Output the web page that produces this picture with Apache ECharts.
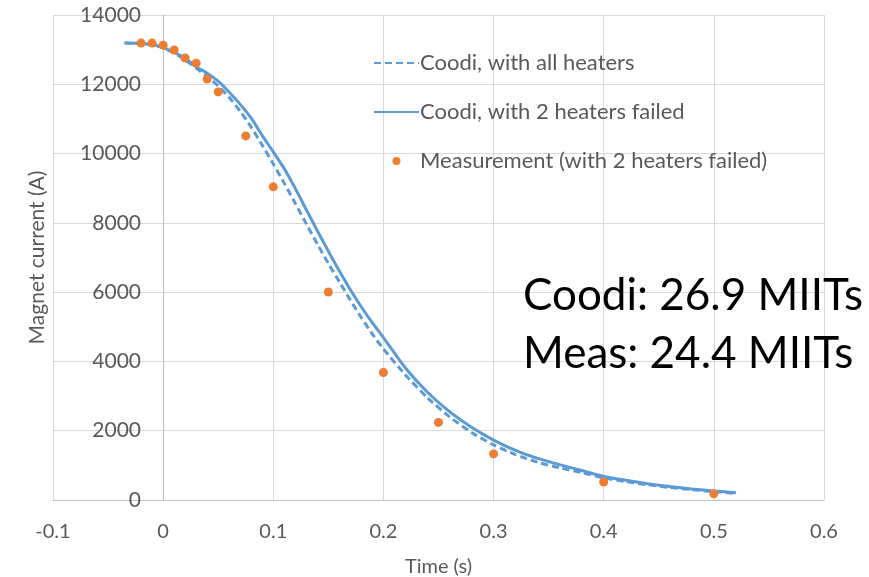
<!DOCTYPE html>
<html>
<head>
<meta charset="utf-8">
<script src="https://cdn.jsdelivr.net/npm/echarts@6/dist/echarts.min.js"></script>
<style>
  html, body { margin: 0; padding: 0; background: #fff; }
  #chart { width: 869px; height: 577px; }
</style>
</head>
<body>
<div id="chart"></div>
<script>
// time axis (s) and magnet current (A)
var tCoodi = [-0.035, -0.02, -0.01, 0, 0.01, 0.02, 0.03, 0.04, 0.05, 0.06, 0.07, 0.08, 0.09,
  0.1, 0.11, 0.12, 0.13, 0.14, 0.15, 0.16, 0.17, 0.18, 0.19, 0.2, 0.22, 0.24, 0.26, 0.28,
  0.3, 0.32, 0.34, 0.36, 0.38, 0.4, 0.42, 0.44, 0.46, 0.48, 0.5, 0.52];
var allHeaters = [13190, 13180, 13140, 13050, 12900, 12700, 12470, 12220, 11950, 11620, 11220, 10760, 10240,
  9700, 9140, 8560, 7970, 7390, 6830, 6300, 5770, 5260, 4790, 4360, 3610, 2950, 2400, 1950,
  1590, 1310, 1090, 930, 790, 640, 530, 440, 360, 300, 240, 190];
var twoFailed = [13190, 13180, 13150, 13060, 12920, 12750, 12510, 12320, 12090, 11770, 11420, 11020, 10520,
  10050, 9560, 8990, 8380, 7770, 7180, 6610, 6070, 5570, 5110, 4690, 3810, 3110, 2550, 2100,
  1730, 1430, 1200, 1020, 850, 680, 570, 470, 390, 320, 260, 210];
var tMeas = [-0.02, -0.01, 0, 0.01, 0.02, 0.03, 0.04, 0.05, 0.075, 0.1, 0.15, 0.2, 0.25, 0.3, 0.4, 0.5];
var meas = [13190, 13190, 13130, 12990, 12760, 12610, 12150, 11780, 10510, 9040, 6005, 3680, 2240, 1330, 520, 180];

var seriesNames = ['Coodi, with all heaters', 'Coodi, with 2 heaters failed', 'Measurement (with 2 heaters failed)'];
var notes = ['Coodi: 26.9 MIITs', 'Meas: 24.4 MIITs'];

function pairs(xs, ys) {
  return xs.map(function (x, i) { return [x, ys[i]]; });
}

var chart = echarts.init(document.getElementById('chart'));
var textColor = '#595959';
var option = {
  animation: false,
  textStyle: { fontFamily: 'Lato' },
  grid: { left: 53, right: 45, top: 15, bottom: 77, outerBoundsMode: 'none' },
  legend: {
    orient: 'vertical',
    left: 368,
    top: 47,
    itemWidth: 45,
    itemHeight: 8,
    itemGap: 27,
    textStyle: { color: textColor, fontSize: 22, fontFamily: 'Lato', padding: [0, 0, 0, -4] },
    data: [
      { name: seriesNames[0], itemStyle: { opacity: 0 } },
      { name: seriesNames[1], itemStyle: { opacity: 0 } },
      { name: seriesNames[2] }
    ]
  },
  xAxis: {
    type: 'value',
    min: -0.1,
    max: 0.6,
    interval: 0.1,
    name: 'Time (s)',
    nameLocation: 'middle',
    nameGap: 57,
    nameTextStyle: { color: textColor, fontSize: 20 },
    axisLine: { onZero: false, lineStyle: { color: '#BFBFBF' } },
    axisTick: { show: false },
    axisLabel: { color: textColor, fontSize: 20, margin: 22 },
    splitLine: { show: true, lineStyle: { color: '#D9D9D9' } }
  },
  yAxis: {
    type: 'value',
    min: 0,
    max: 14000,
    interval: 2000,
    // the vertical axis sits on t = 0, one tick (0.1 s) right of the plot's left edge
    offset: -110,
    name: 'Magnet current (A)',
    nameLocation: 'middle',
    nameGap: 115,
    nameTextStyle: { color: textColor, fontSize: 21 },
    axisLine: { show: true, onZero: false, lineStyle: { color: '#BFBFBF' } },
    axisTick: { show: false },
    axisLabel: {
      color: textColor, fontSize: 21, margin: 22,
      formatter: function (v) { return String(v); }
    },
    splitLine: { lineStyle: { color: '#D9D9D9' } }
  },
  series: [
    {
      name: seriesNames[0],
      type: 'line',
      symbol: 'none',
      smooth: 0.2,
      data: pairs(tCoodi, allHeaters),
      lineStyle: { color: '#5B9BD5', width: 3, type: [7, 4] },
      itemStyle: { color: '#5B9BD5' },
      z: 3
    },
    {
      name: seriesNames[1],
      type: 'line',
      symbol: 'none',
      smooth: 0.2,
      data: pairs(tCoodi, twoFailed),
      lineStyle: { color: '#5B9BD5', width: 3 },
      itemStyle: { color: '#5B9BD5' },
      z: 2
    },
    {
      name: seriesNames[2],
      type: 'scatter',
      symbol: 'circle',
      symbolSize: 9,
      data: pairs(tMeas, meas),
      itemStyle: { color: '#ED7D31', opacity: 1 },
      z: 4
    }
  ],
  graphic: [
    {
      type: 'text',
      left: 523,
      top: 274,
      z: 100,
      style: { text: notes[0], fill: '#000', fontSize: 44, fontFamily: 'Lato' }
    },
    {
      type: 'text',
      left: 523,
      top: 332,
      z: 100,
      style: { text: notes[1], fill: '#000', fontSize: 44, fontFamily: 'Lato' }
    }
  ]
};
chart.setOption(option);
</script>
</body>
</html>
